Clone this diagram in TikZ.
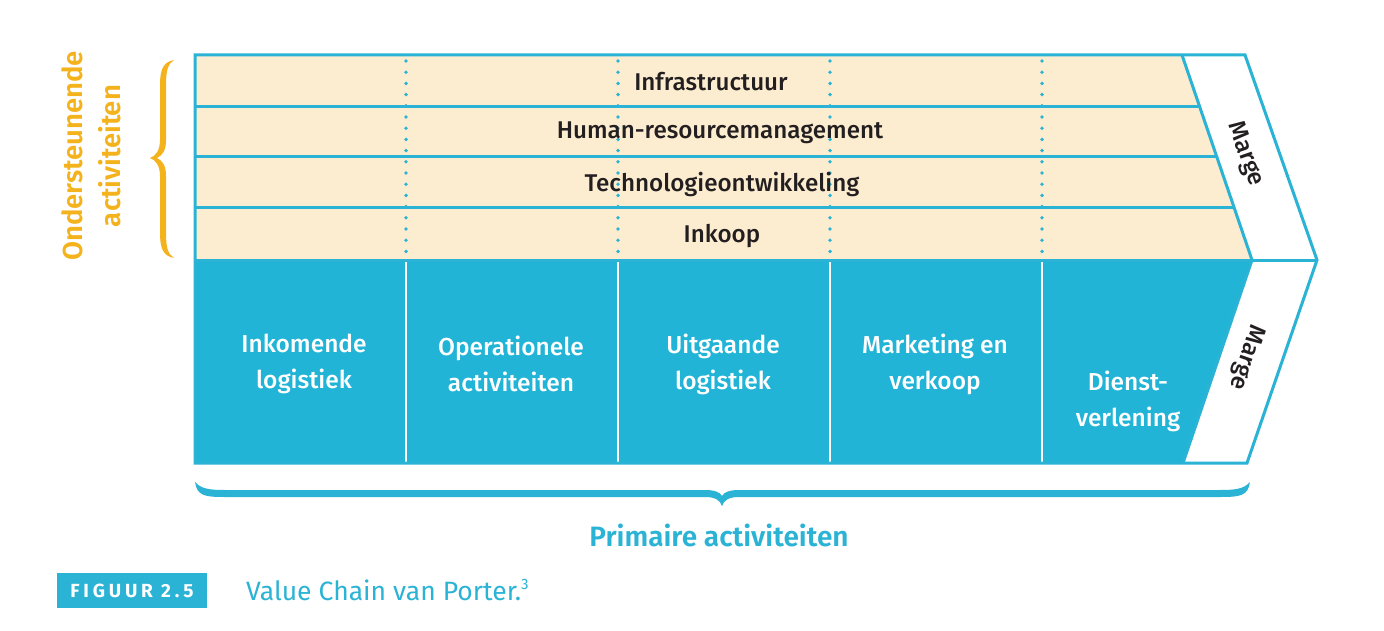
\documentclass[tikz,border=0pt]{standalone}
\usepackage{fontspec}
\setmainfont{Fira Sans}
\newfontfamily\fmed{Fira Sans Medium}
\newfontfamily\fsemi{Fira Sans SemiBold}
\definecolor{cy}{HTML}{2AB3D4}
\definecolor{cyfill}{HTML}{22B4D6}
\definecolor{beige}{HTML}{FDEDD0}
\definecolor{orng}{HTML}{F4B31C}
\definecolor{ink}{HTML}{231F20}
\tikzset{
  x=1pt,y=-1pt,
  rowtxt/.style={font=\fmed\fontsize{24.2}{28}\selectfont, text=ink, inner sep=0pt},
  coltxt/.style={font=\fmed\fontsize{24.5}{36}\selectfont, text=white, align=center, inner sep=0pt},
  margetxt/.style={font=\fmed\fontsize{24}{28}\selectfont, text=ink, inner sep=0pt},
  cyline/.style={draw=cy, line width=3pt},
  dotline/.style={draw=cy, line width=3.8pt, line cap=round, dash pattern=on 0pt off 11.2pt},
  whiteline/.style={draw=white, line width=2pt},
}
\begin{document}
\begin{tikzpicture}
\path[use as bounding box, fill=white] (0,0) rectangle (1384,631);
% corner coordinates
\coordinate (TL) at (195,55);
\coordinate (TR) at (1182,55);
\coordinate (MR) at (1252,260);
\coordinate (BR) at (1183,463);
\coordinate (BL) at (195,463);
\coordinate (ML) at (195,260);
\coordinate (OTR) at (1245,55);
\coordinate (TIP) at (1317,260);
\coordinate (OBR) at (1247,463);
% fills
\fill[beige] (TL) -- (TR) -- (MR) -- (ML) -- cycle;
\fill[cyfill] (ML) -- (MR) -- (BR) -- (BL) -- cycle;
% dotted column separators in support area
\foreach \xx in {406,618,830,1042}{
  \draw[dotline] (\xx,61) -- (\xx,258);
}
% white separators in primary area
\foreach \xx in {406,618,830,1042}{
  \draw[whiteline] (\xx,261) -- (\xx,463);
}
% horizontal row lines
\draw[cyline] (195,107) -- (1200,107);
\draw[cyline] (195,157) -- (1217,157);
\draw[cyline] (195,208) -- (1234,208);
\draw[cyline] (ML) -- (TIP);
% slanted inner lines
\draw[cyline] (TR) -- (MR) -- (BR);
% outer border
\draw[cyline, line join=miter] (TL) -- (OTR) -- (TIP) -- (OBR) -- (BL) -- cycle;
% row labels
\node[rowtxt] (r1) at (711,82) {Infrastructuur};
\node[rowtxt] (r2) at (720,133) {Human-resourcemanagement};
\node[rowtxt] (r3) at (722,184) {Technologieontwikkeling};
\node[rowtxt] (r4) at (722,236) {Inkoop};
% column labels
\node[coltxt] (c1) at (304,364) {Inkomende\\logistiek};
\node[coltxt] (c2) at (511,364) {Operationele\\activiteiten};
\node[coltxt] (c3) at (723,364) {Uitgaande\\logistiek};
\node[coltxt] (c4) at (935,364) {Marketing en\\verkoop};
\node[coltxt] (c5) at (1128,401) {Dienst-\\verlening};
% marge labels
\node[margetxt, rotate=-71] (m1) at (1245,154) {Marge};
\node[margetxt, rotate=-109] (m2) at (1246,357) {Marge};
% left brace
\fill[orng] (174,60) .. controls (163,62) and (160,70) .. (160,85) -- (160,140)
  .. controls (160,150) and (156,156) .. (150,158)
  .. controls (156,160) and (160,166) .. (160,176) -- (160,233)
  .. controls (160,248) and (163,256) .. (174,258)
  .. controls (168,254) and (166,248) .. (166,233) -- (166,176)
  .. controls (166,166) and (163,161) .. (157,158)
  .. controls (163,155) and (166,150) .. (166,140) -- (166,85)
  .. controls (166,70) and (168,64) .. (174,60) -- cycle;
\node[font=\fsemi\fontsize{27.5}{38}\selectfont, text=orng, align=center, rotate=90, inner sep=0pt] (ond) at (91,156) {Ondersteunende\\activiteiten};
% bottom brace
\fill[cy] (195,482) .. controls (197,496) and (205,497) .. (225,497) -- (705,497)
  .. controls (715,497) and (720,500) .. (722,506)
  .. controls (724,500) and (729,497) .. (739,497) -- (1220,497)
  .. controls (1240,497) and (1248,496) .. (1250,482)
  .. controls (1244,489) and (1235,490) .. (1220,490) -- (739,490)
  .. controls (730,490) and (724,492) .. (722,496)
  .. controls (720,492) and (714,490) .. (705,490) -- (225,490)
  .. controls (210,490) and (201,489) .. (195,482) -- cycle;
\node[font=\fsemi\fontsize{28}{34}\selectfont, text=cy, inner sep=0pt] (prim) at (719,535) {Primaire activiteiten};
% caption
\node[fill=cy, minimum width=150pt, minimum height=35pt, inner sep=0pt, font=\fontsize{19}{22}\selectfont\bfseries\addfontfeatures{LetterSpace=20}, text=white] (fig) at (132,590.5) {FIGUUR 2.5};
\node[anchor=west, font=\fontsize{26.5}{30}\selectfont, text=cy, inner sep=0pt] (cap) at (246,590) {Value Chain van Porter.\raisebox{0.4em}{\fontsize{15}{16}\selectfont 3}};
\end{tikzpicture}
\end{document}
